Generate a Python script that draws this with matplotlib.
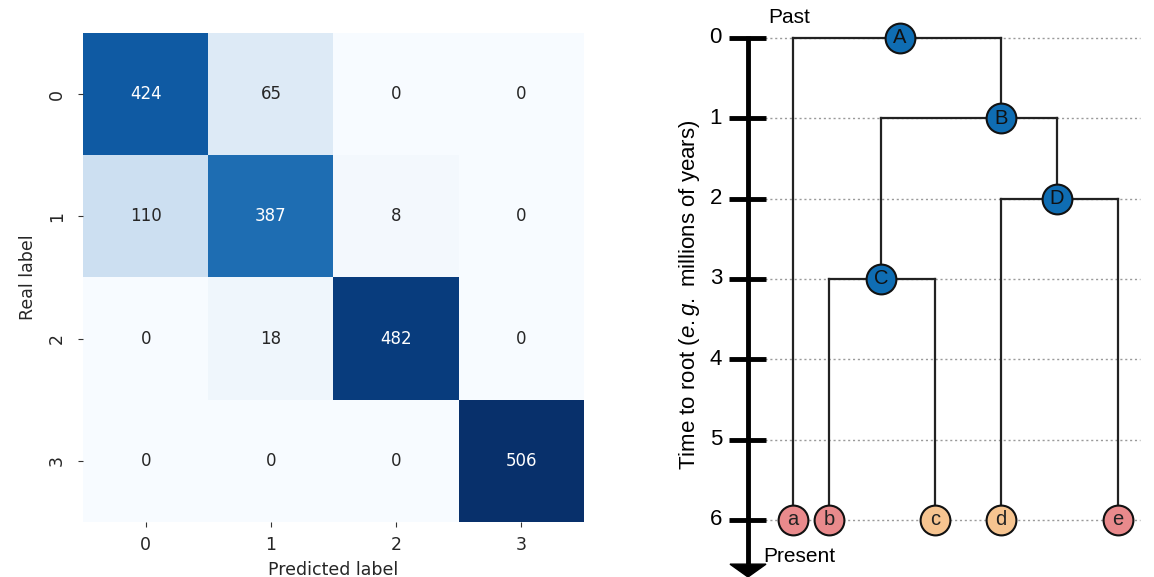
import numpy as np
import matplotlib.pyplot as plt

plt.rcParams['mathtext.fontset'] = 'custom'
plt.rcParams['mathtext.rm'] = 'Liberation Sans'
plt.rcParams['mathtext.it'] = 'Liberation Sans:italic'

# confusion matrix
classes = ['0', '1', '2', '3']
cm = np.array([[424, 65, 0, 0],
               [110, 387, 8, 0],
               [0, 18, 482, 0],
               [0, 0, 0, 506]])

# tree
leaf_names = ['a', 'b', 'c', 'd', 'e']
leaf_x = [793, 829, 935, 1001, 1118]
leaf_colors = ['#e98a8c', '#e98a8c', '#f6c490', '#f6c490', '#e98a8c']
node_names = ['A', 'B', 'C', 'D']
node_x = [900, 1001, 881, 1057]
node_t = [0, 1, 3, 2]
children = {'A': ['a', 'B'], 'B': ['C', 'D'], 'C': ['b', 'c'], 'D': ['d', 'e']}
leaf_t = 6
time_ticks = [0, 1, 2, 3, 4, 5, 6]

fig = plt.figure(figsize=(11.54, 5.77), dpi=100)

# ---- left: heatmap
ax = fig.add_axes([83 / 1154, 1 - 522 / 577, 501 / 1154, 489 / 577])
ax.imshow(cm, cmap='Blues', vmin=0, vmax=cm.max(), aspect='auto')
for i in range(cm.shape[0]):
    for j in range(cm.shape[1]):
        col = 'white' if cm[i, j] > 0.6 * cm.max() else '#262626'
        ax.text(j, i, str(cm[i, j]), ha='center', va='center', color=col, fontsize=12)
ax.set_xticks(range(len(classes)))
ax.set_xticklabels(classes, fontsize=12.5)
ax.set_yticks(range(len(classes)))
ax.set_yticklabels(classes, fontsize=12.5, rotation=90, va='center')
ax.tick_params(length=3.5, color='#333333', labelcolor='#262626')
ax.tick_params(axis='x', pad=6.5)
ax.tick_params(axis='y', pad=9)
for s in ax.spines.values():
    s.set_visible(False)
ax.set_xlabel('Predicted label', fontsize=12.5, labelpad=5, color='#262626')
ax.set_ylabel('Real label', fontsize=12.5, labelpad=8, color='#262626')

# ---- right: tree
ax2 = fig.add_axes([660 / 1154, 0, 494 / 1154, 1])
ax2.set_xlim(660, 1154)
ax2.set_ylim(6.71, -0.473)
ax2.axis('off')

sans = ['Liberation Sans', 'DejaVu Sans']
for t in time_ticks:
    ax2.plot([765, 1140], [t, t], color='#9a9a9a', lw=1, ls=(0, (1.5, 2)), zorder=1)
    ax2.plot([729, 766], [t, t], color='black', lw=3.5, solid_capstyle='butt', zorder=3)
    ax2.text(722, t, str(t), ha='right', va='center', fontsize=16, family=sans)
ax2.plot([748, 748], [-0.02, 6.55], color='black', lw=3.5, solid_capstyle='butt', zorder=3)
ax2.fill([730, 766, 748], [6.55, 6.55, 6.71], color='black', zorder=3, clip_on=False)

ax2.text(690, 3.2, r'Time to root ($\it{e.g.}$ millions of years)', rotation=90,
         ha='center', va='center', fontsize=16, family=sans)
ax2.text(768, -0.25, 'Past', ha='left', va='center', fontsize=15, family=sans)
ax2.text(763, 6.45, 'Present', ha='left', va='center', fontsize=15, family=sans)

pos = {}
for n, x in zip(leaf_names, leaf_x):
    pos[n] = (x, leaf_t)
for n, x, t in zip(node_names, node_x, node_t):
    pos[n] = (x, t)

for p, kids in children.items():
    px, pt = pos[p]
    xs = [pos[k][0] for k in kids]
    ax2.plot([min(xs), max(xs)], [pt, pt], color='#222222', lw=1.6, zorder=2)
    for k in kids:
        kx, kt = pos[k]
        ax2.plot([kx, kx], [pt, kt], color='#222222', lw=1.6, zorder=2)

for n, x, t in zip(node_names, node_x, node_t):
    ax2.scatter(x, t, s=460, color='#0f6db3', edgecolor='#111111', lw=1.5, zorder=5)
    ax2.text(x, t, n, ha='center', va='center', fontsize=14.5, color='#111111', family=sans, zorder=6)
for n, x, c in zip(leaf_names, leaf_x, leaf_colors):
    ax2.scatter(x, leaf_t, s=460, color=c, edgecolor='#111111', lw=1.5, zorder=5)
    ax2.text(x, leaf_t, n, ha='center', va='center', fontsize=14.5, color='#222222', family=sans, zorder=6)

fig.savefig('out.png', dpi=100)
